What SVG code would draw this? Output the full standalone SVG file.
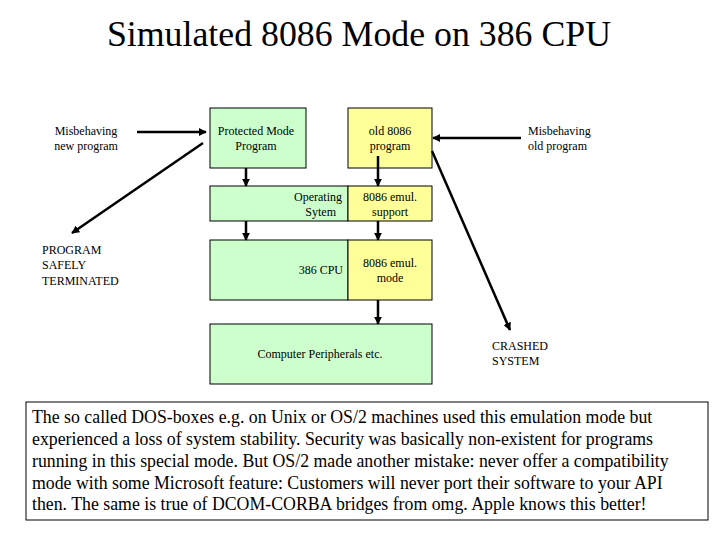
<svg xmlns="http://www.w3.org/2000/svg" width="720" height="540" viewBox="0 0 720 540">
<defs>
<marker id="ah" viewBox="0 0 10 10" refX="9" refY="5" markerWidth="3.2" markerHeight="3.2" orient="auto"><path d="M0,0 L10,5 L0,10 z" fill="#000"/></marker>
<style>
text{font-family:'Liberation Serif','Times New Roman',Times,'DejaVu Serif',serif;fill:#000}
.g{fill:#ccffcc;stroke:#000;stroke-width:1}
.y{fill:#ffff99;stroke:#000;stroke-width:1}
.t{font-size:12px}
.c{text-anchor:middle}
.r{text-anchor:end}
.ln{stroke:#000;stroke-width:2.5;fill:none;marker-end:url(#ah)}
.b{font-size:17.8px}
</style>
</defs>
<rect width="720" height="540" fill="#fff"/>
<text x="359" y="46" class="c" font-size="35.8">Simulated 8086 Mode on 386 CPU</text>
<g id="pm"><rect class="g" x="210" y="108" width="96" height="60"/><text class="t c" x="256" y="135">Protected Mode</text><text class="t c" x="256" y="150">Program</text></g>
<g id="old"><rect class="y" x="348" y="108" width="84" height="60"/><text class="t c" x="390" y="135">old  8086</text><text class="t c" x="390" y="150">program</text></g>
<g id="os"><rect class="g" x="210" y="186" width="138" height="35"/><text class="t r" x="342" y="201">Operating</text><text class="t r" x="336" y="216">Sytem</text></g>
<g id="emsup"><rect class="y" x="348" y="186" width="84" height="35"/><text class="t c" x="390" y="201">8086 emul.</text><text class="t c" x="390" y="216">support</text></g>
<g id="cpu"><rect class="g" x="210" y="240" width="138" height="60"/><text class="t r" x="343" y="274">386 CPU</text></g>
<g id="emmode"><rect class="y" x="348" y="240" width="84" height="60"/><text class="t c" x="390" y="267">8086 emul.</text><text class="t c" x="390" y="282">mode</text></g>
<g id="periph"><rect class="g" x="210" y="324" width="222" height="60"/><text class="t c" x="320" y="358">Computer Peripherals etc.</text></g>
<g id="newprog"><text class="t c" x="86" y="135">Misbehaving</text><text class="t c" x="86" y="150">new program</text></g>
<g id="term"><text class="t" x="42" y="254">PROGRAM</text><text class="t" x="42" y="269">SAFELY</text><text class="t" x="42" y="285">TERMINATED</text></g>
<g id="oldprog"><text class="t" x="528" y="135">Misbehaving</text><text class="t" x="528" y="150">old program</text></g>
<g id="crash"><text class="t" x="492" y="350">CRASHED</text><text class="t" x="492" y="365">SYSTEM</text></g>
<g id="connectors">
<line class="ln" x1="137" y1="132" x2="206" y2="132"/>
<line class="ln" x1="203" y1="143" x2="72" y2="233"/>
<line class="ln" x1="521" y1="138" x2="433" y2="138"/>
<line class="ln" x1="432" y1="151" x2="510" y2="330"/>
<line class="ln" x1="246" y1="168" x2="246" y2="186"/>
<line class="ln" x1="246" y1="221" x2="246" y2="240"/>
<line class="ln" x1="378" y1="156" x2="378" y2="186"/>
<line class="ln" x1="378" y1="221" x2="378" y2="240"/>
<line class="ln" x1="378" y1="300" x2="378" y2="324"/>
</g>
<g id="note"><rect x="26" y="402" width="682" height="118" fill="#fff" stroke="#000" stroke-width="1"/>
<text class="b" x="32" y="423">The so called DOS-boxes e.g. on Unix or OS/2 machines used this emulation mode but</text>
<text class="b" x="32" y="445">experienced a loss of system stability. Security was basically non-existent for programs</text>
<text class="b" x="32" y="467">running in this special mode. But OS/2 made another mistake: never offer a compatibility</text>
<text class="b" x="32" y="489">mode with some Microsoft feature: Customers will never port their software to your API</text>
<text class="b" x="32" y="510">then. The same is true of DCOM-CORBA bridges from omg. Apple knows this better!</text>
</g>
</svg>
